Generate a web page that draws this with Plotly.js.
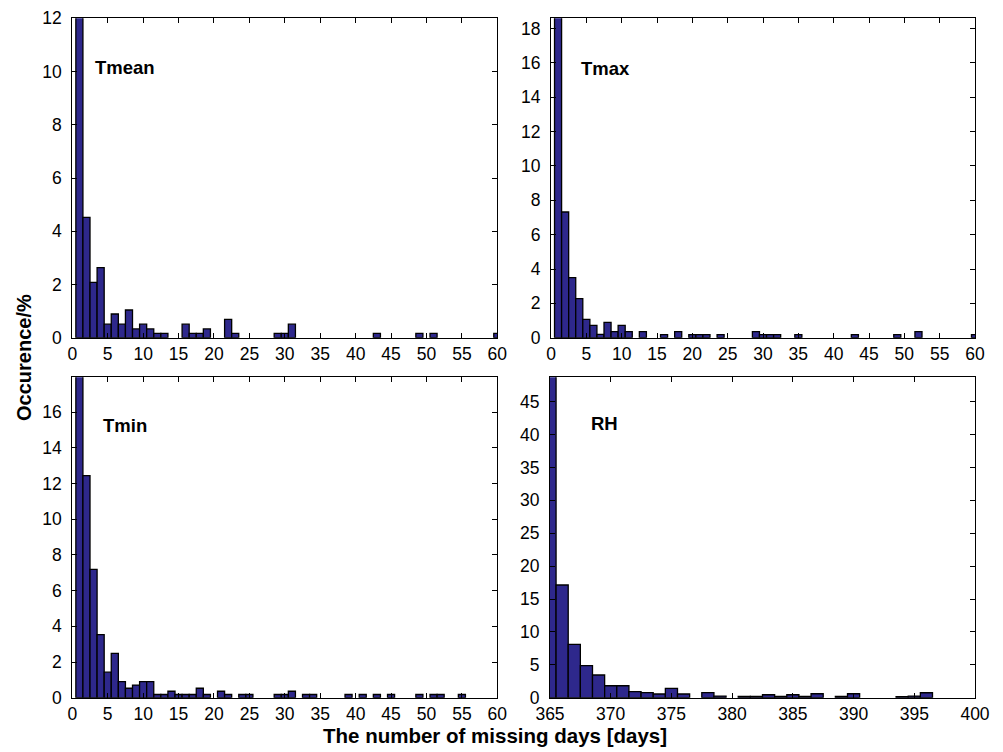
<!DOCTYPE html>
<html>
<head>
<meta charset="utf-8">
<script src="https://cdn.plot.ly/plotly-3.0.1.min.js"></script>
<style>html,body{margin:0;padding:0;background:#fff;}#chart{width:1003px;height:752px;}</style>
</head>
<body>
<div id="chart"></div>
<script>
// Missing-day counts (x) and occurrence percentages (y) for each variable
var tmeanDays = [1, 2, 3, 4, 5, 6, 7, 8, 9, 10, 11, 12, 13, 16, 17, 18, 19, 22, 23, 29, 30, 31, 43, 49, 51, 60];
var tmeanPct  = [82.8, 4.52, 2.08, 2.63, 0.51, 0.89, 0.51, 1.04, 0.33, 0.51, 0.33, 0.16, 0.16, 0.51, 0.16, 0.16, 0.33, 0.69, 0.16, 0.16, 0.16, 0.51, 0.16, 0.16, 0.16, 0.16];

var tmaxDays = [1, 2, 3, 4, 5, 6, 7, 8, 9, 10, 11, 13, 16, 18, 20, 21, 22, 24, 29, 30, 31, 32, 35, 43, 49, 52, 60];
var tmaxPct  = [78.9, 7.32, 3.50, 2.27, 1.07, 0.72, 0.19, 0.89, 0.35, 0.72, 0.35, 0.35, 0.18, 0.35, 0.18, 0.18, 0.18, 0.18, 0.35, 0.18, 0.18, 0.18, 0.18, 0.18, 0.18, 0.35, 0.18];

var tminDays = [1, 2, 3, 4, 5, 6, 7, 8, 9, 10, 11, 12, 13, 14, 15, 16, 17, 18, 19, 21, 22, 24, 25, 29, 30, 31, 33, 34, 39, 41, 43, 45, 49, 51, 52, 55];
var tminPct  = [63.6, 12.44, 7.19, 3.53, 1.43, 2.48, 0.90, 0.53, 0.71, 0.90, 0.90, 0.18, 0.18, 0.36, 0.18, 0.18, 0.18, 0.53, 0.18, 0.36, 0.18, 0.18, 0.18, 0.18, 0.18, 0.36, 0.18, 0.18, 0.18, 0.18, 0.18, 0.18, 0.18, 0.18, 0.18, 0.18];

var rhDays = [365, 366, 367, 368, 369, 370, 371, 372, 373, 374, 375, 376, 378, 379, 381, 382, 383, 384, 385, 386, 387, 389, 390, 394, 395, 396];
var rhPct  = [53.3, 17.13, 8.11, 4.87, 3.45, 1.82, 1.82, 0.91, 0.76, 0.56, 1.42, 0.56, 0.76, 0.25, 0.20, 0.20, 0.45, 0.20, 0.45, 0.20, 0.60, 0.20, 0.60, 0.15, 0.25, 0.75];

var panelNames = ["Tmean", "Tmax", "Tmin", "RH"];
var xTitle = "The number of missing days [days]";
var yTitle = "Occurence/%";

var W = 1003, H = 752;
var FONT = "Liberation Sans, Arial, Helvetica, sans-serif";
var barColor = "rgb(46,40,140)";

function px2x(p){ return p / W; }
function px2y(p){ return 1 - p / H; }

function barTrace(x, y, xa, ya){
  return {
    type: "bar", x: x, y: y, width: 1,
    xaxis: xa, yaxis: ya,
    marker: {color: barColor, line: {color: "#000", width: 1.3}},
    hoverinfo: "x+y", showlegend: false
  };
}

var data = [
  barTrace(tmeanDays, tmeanPct, "x", "y"),
  barTrace(tmaxDays, tmaxPct, "x2", "y2"),
  barTrace(tminDays, tminPct, "x3", "y3"),
  barTrace(rhDays, rhPct, "x4", "y4")
];

function xax(domain, range, dtick, anchor){
  return {
    domain: domain, range: range, dtick: dtick, tick0: range[0], anchor: anchor,
    showgrid: false, zeroline: false, showline: true, linecolor: "#000", linewidth: 1,
    mirror: "ticks", ticks: "inside", ticklen: 5, tickcolor: "#000", ticklabelstandoff: 0,
    tickfont: {family: FONT, size: 17.5, color: "#000"}, fixedrange: true
  };
}
function yax(domain, range, dtick, anchor){
  return {
    domain: domain, range: range, dtick: dtick, tick0: 0, anchor: anchor,
    showgrid: false, zeroline: false, showline: true, linecolor: "#000", linewidth: 1,
    mirror: "ticks", ticks: "inside", ticklen: 5, tickcolor: "#000", ticklabelstandoff: 6,
    tickfont: {family: FONT, size: 17.5, color: "#000"}, fixedrange: true
  };
}

var xL = [px2x(72.3), px2x(497.3)];
var xR = [px2x(551), px2x(975)];
var xR4 = [px2x(550), px2x(975)];
var yT = [px2y(337.7), px2y(18.3)];
var yB = [px2y(697.7), px2y(377.3)];

function label(text, xp, yp){
  return {text: "<b>" + text + "</b>", xref: "paper", yref: "paper", x: px2x(xp), y: px2y(yp),
    xanchor: "left", yanchor: "middle", showarrow: false,
    font: {family: FONT, size: 18.5, color: "#000"}};
}

var layout = {
  width: W, height: H,
  margin: {l: 0, r: 0, t: 0, b: 0},
  paper_bgcolor: "#fff", plot_bgcolor: "#fff",
  bargap: 0,
  xaxis: xax(xL, [0, 60], 5, "y"),
  yaxis: yax(yT, [0, 12], 2, "x"),
  xaxis2: xax(xR, [0, 60], 5, "y2"),
  yaxis2: yax(yT, [0, 18.6], 2, "x2"),
  xaxis3: xax(xL, [0, 60], 5, "y3"),
  yaxis3: yax(yB, [0, 17.95], 2, "x3"),
  xaxis4: xax(xR4, [365, 400], 5, "y4"),
  yaxis4: yax(yB, [0, 48.7], 5, "x4"),
  annotations: [
    label(panelNames[0], 93, 67.5),
    label(panelNames[1], 579, 68.7),
    label(panelNames[2], 101, 425),
    label(panelNames[3], 589, 423),
    {text: "<b>" + xTitle + "</b>", xref: "paper", yref: "paper", x: px2x(495), y: px2y(735),
      xanchor: "center", yanchor: "middle", showarrow: false, borderpad: 0,
      font: {family: FONT, size: 20.5, color: "#000"}},
    {text: "<b>" + yTitle + "</b>", xref: "paper", yref: "paper", x: px2x(24), y: px2y(358),
      xanchor: "center", yanchor: "middle", showarrow: false, textangle: -90,
      font: {family: FONT, size: 20, color: "#000"}}
  ]
};

Plotly.newPlot("chart", data, layout, {displayModeBar: false, staticPlot: true});
</script>
</body>
</html>
